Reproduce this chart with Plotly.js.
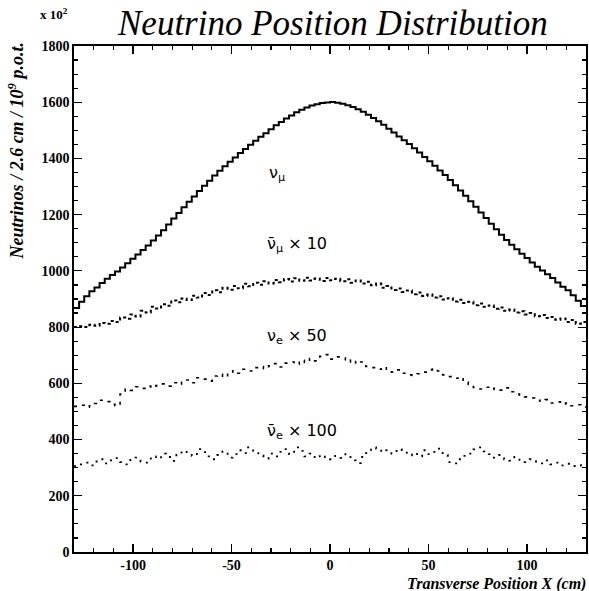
<!DOCTYPE html>
<html>
<head>
<meta charset="utf-8">
<script src="https://cdn.plot.ly/plotly-3.0.1.min.js"></script>
<style>html,body{margin:0;padding:0;background:#fff;}</style>
</head>
<body>
<div id="chart" style="width:589px;height:591px;"></div>
<script>
// Histogram binning: 100 bins of 2.6 cm from -130 to 130 cm
const xMin = -130, xMax = 130, nBins = 100;

// nu_mu (solid)
const numu = [868,890,910,928,941,957,972,985,998,1012,1027,1043,1058,1074,1090,1108,1126,1145,1165,1186,
1206,1226,1246,1265,1284,1303,1321,1339,1356,1372,1388,1403,1419,1434,1449,1463,1477,1490,1504,1518,
1530,1542,1553,1564,1573,1581,1588,1593,1597,1599,
1601,1598,1595,1589,1583,1575,1566,1555,1544,1532,1520,1506,1492,1478,1465,1451,1436,1421,1405,1390,
1374,1357,1341,1323,1305,1286,1267,1248,1228,1208,1188,1168,1148,1129,1110,1093,1077,1061,1046,1030,
1015,1001,988,975,959,944,931,913,894,875];

// anti-nu_mu x10
const numubar10 = [800,803,800,808,805,815,812,822,818,834,830,845,838,858,852,872,866,881,876,895,
888,902,896,912,905,921,914,931,924,940,933,946,938,954,945,958,951,963,955,968,
960,971,962,974,965,976,966,973,964,975,967,972,963,970,958,966,955,961,949,955,
940,946,932,937,925,930,917,923,911,916,905,910,898,903,891,897,886,890,878,884,
872,877,865,870,858,863,852,856,845,850,839,843,832,836,826,831,818,825,812,818];

// nu_e x50
const nue50 = [518,522,515,520,528,540,535,525,520,562,580,575,588,582,590,584,592,598,590,602,
596,608,612,602,620,615,608,626,632,622,640,645,636,650,644,656,660,652,662,670,
658,672,676,668,682,674,688,680,696,702,686,694,690,676,684,670,676,660,656,650,
658,645,640,648,636,630,628,634,640,648,652,644,630,624,618,622,605,596,585,580,
586,578,582,576,584,570,562,558,552,548,540,536,542,530,534,526,530,520,524,516];

// anti-nu_e x100
const nuebar100 = [305,312,318,308,322,330,315,326,334,320,312,328,336,322,318,340,332,350,338,324,
345,360,352,342,366,355,340,330,345,358,336,348,362,352,372,360,344,332,350,340,
356,366,348,372,360,340,350,334,345,338,330,342,335,348,326,316,338,352,372,368,
356,362,350,366,358,344,352,340,362,348,356,368,345,320,315,330,342,350,365,372,
358,348,336,345,330,325,338,328,320,330,322,315,326,312,318,308,314,306,310,304];

const xTicks = [-100, -50, 0, 50, 100];
const xTickText = ["-100", "-50", "0", "50", "100"];
const seriesLabels = ["ν<sub>μ</sub>", "ν̄<sub>μ</sub> × 10", "ν<sub>e</sub> × 50", "ν̄<sub>e</sub> × 100"];

const binW = (xMax - xMin) / nBins;
function stepXY(vals) {
  const xs = [], ys = [];
  for (let i = 0; i < vals.length; i++) { xs.push(xMin + i * binW); ys.push(vals[i]); }
  xs.push(xMax); ys.push(vals[vals.length - 1]);
  return {xs, ys};
}
function trace(vals, dash, width) {
  const s = stepXY(vals);
  return {x: s.xs, y: s.ys, type: 'scatter', mode: 'lines',
    line: {shape: 'hv', color: '#000', width: width, dash: dash},
    hoverinfo: 'skip', showlegend: false};
}
const data = [
  trace(numu, 'solid', 2),
  trace(numubar10, 'dot', 2),
  trace(nue50, '3px,6px', 1.6),
  trace(nuebar100, '2px,6px', 1.8)
];

const serif = 'Liberation Serif';
const sans = 'DejaVu Sans';
const tickFont = {family: serif, size: 14, color: '#000', weight: 700};

const labelPos = [[-32, 1345], [-33, 1093], [-33, 765], [-33, 427]];
const annotations = labelPos.map((p, i) => ({
  x: p[0], y: p[1], xref: 'x', yref: 'y', text: seriesLabels[i], showarrow: false,
  xanchor: 'left', yanchor: 'middle', font: {family: sans, size: 16, color: '#000'}
}));
annotations.push(
  {text: 'Neutrino Position Distribution', xref: 'paper', yref: 'paper', x: 0.504, y: 1.0435,
   xanchor: 'center', yanchor: 'middle', showarrow: false,
   font: {family: serif, size: 35, style: 'italic', color: '#000'}},
  {text: 'x 10<sup>2</sup>', xref: 'paper', yref: 'paper', x: -0.04, y: 1.063,
   xanchor: 'center', yanchor: 'middle', showarrow: false,
   font: {family: serif, size: 13, color: '#000', weight: 700}},
  {text: 'Neutrinos / 2.6 cm / 10<sup>9</sup> p.o.t.', xref: 'paper', yref: 'paper', x: -0.113, y: 0.792,
   xanchor: 'center', yanchor: 'middle', textangle: -90, showarrow: false,
   font: {family: serif, size: 18, style: 'italic', color: '#000', weight: 700}},
  {text: 'Transverse Position X (cm)', xref: 'paper', yref: 'paper', x: 1.004, y: -0.063,
   xanchor: 'right', yanchor: 'middle', showarrow: false,
   font: {family: serif, size: 16, style: 'italic', color: '#000', weight: 700}}
);

const layout = {
  width: 589, height: 591,
  margin: {l: 74, r: 3, t: 46, b: 39},
  paper_bgcolor: '#fff', plot_bgcolor: '#fff',
  showlegend: false,
  xaxis: {range: [xMin, xMax], tickvals: xTicks, ticktext: xTickText, ticks: 'inside', ticklen: 8, tickwidth: 1.2, tickcolor: '#000',
    minor: {dtick: 10, tick0: 0, ticks: 'inside', ticklen: 4, tickcolor: '#000', showgrid: false},
    showline: true, linecolor: '#000', linewidth: 1.6, mirror: 'allticks',
    showgrid: false, zeroline: false, tickfont: tickFont},
  yaxis: {range: [0, 1800], dtick: 200, tick0: 0, ticks: 'inside', ticklen: 8, tickwidth: 1.2, tickcolor: '#000',
    minor: {dtick: 50, tick0: 0, ticks: 'inside', ticklen: 4, tickcolor: '#000', showgrid: false},
    showline: true, linecolor: '#000', linewidth: 1.6, mirror: 'allticks',
    showgrid: false, zeroline: false, tickfont: tickFont},
  annotations: annotations
};

Plotly.newPlot('chart', data, layout, {staticPlot: true, displayModeBar: false});
</script>
</body>
</html>
